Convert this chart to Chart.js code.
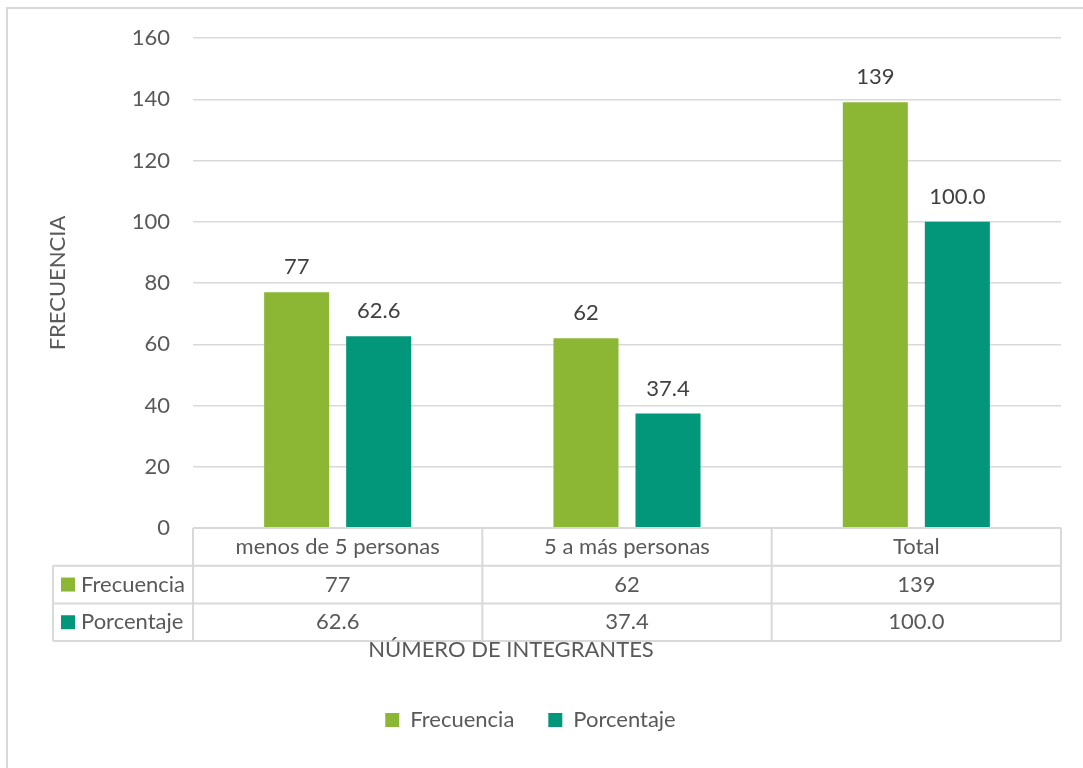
<!DOCTYPE html>
<html>
<head>
<meta charset="utf-8">
<script src="https://cdn.jsdelivr.net/npm/chart.js@4.4.1/dist/chart.umd.min.js"></script>
<style>
  html, body { margin: 0; padding: 0; background: #ffffff; }
  #frame { position: absolute; left: 6px; top: 7px; width: 1200px; height: 900px; border: 2px solid #d9d9d9; box-sizing: border-box; }
  #c { position: absolute; left: 0; top: 0; }
</style>
</head>
<body>
<div id="frame"></div>
<canvas id="c" width="1083" height="768"></canvas>
<script>
// ---- data ----
const categories = ["menos de 5 personas", "5 a más personas", "Total"];
const frecuencia = [77, 62, 139];
const porcentaje = [62.6, 37.4, 100.0];
const seriesNames = ["Frecuencia", "Porcentaje"];
const yTicks = [0, 20, 40, 60, 80, 100, 120, 140, 160];
const yTitle = "FRECUENCIA";
const xTitle = "NÚMERO DE INTEGRANTES";

// ---- styles ----
const FONT = "Lato";
const TXT = "#595959";
const LBL = "#404040";
const GRID = "#d9d9d9";
const colors = ["#8BB735", "#02967A"];
const fmt = [v => String(v), v => v.toFixed(1)];
const seriesData = [frecuencia, porcentaje];

const dataLabels = {
  id: "dataLabels",
  afterDatasetsDraw(chart) {
    const ctx = chart.ctx;
    ctx.save();
    ctx.font = "22px " + FONT;
    ctx.fillStyle = LBL;
    ctx.textAlign = "center";
    ctx.textBaseline = "middle";
    chart.data.datasets.forEach((ds, di) => {
      const meta = chart.getDatasetMeta(di);
      meta.data.forEach((bar, i) => {
        ctx.fillText(fmt[di](ds.data[i]), bar.x, bar.y - 25);
      });
    });
    ctx.restore();
  }
};

const dataTable = {
  id: "dataTable",
  afterDraw(chart) {
    const ctx = chart.ctx;
    const x = chart.scales.x;
    const ca = chart.chartArea;
    const half = (x.getPixelForValue(1) - x.getPixelForValue(0)) / 2;
    const rowH = 37.7;
    const tableLeft = 53;
    const top = ca.bottom;
    const r1 = top + rowH, r2 = top + 2 * rowH, r3 = top + 3 * rowH;
    ctx.save();
    ctx.strokeStyle = GRID;
    ctx.lineWidth = 2;
    ctx.beginPath();
    ctx.moveTo(ca.left, top); ctx.lineTo(ca.right, top);
    [r1, r2, r3].forEach(y => { ctx.moveTo(tableLeft, y); ctx.lineTo(ca.right, y); });
    ctx.moveTo(tableLeft, r1); ctx.lineTo(tableLeft, r3);
    ctx.moveTo(ca.left, top); ctx.lineTo(ca.left, r3);
    categories.forEach((c, i) => {
      const xr = x.getPixelForValue(i) + half;
      ctx.moveTo(xr, top); ctx.lineTo(xr, r3);
    });
    ctx.stroke();

    ctx.font = "22px " + FONT;
    ctx.fillStyle = TXT;
    ctx.textAlign = "center";
    ctx.textBaseline = "middle";
    categories.forEach((c, i) => {
      const cx = x.getPixelForValue(i);
      ctx.fillText(c, cx, top + rowH / 2);
      ctx.fillText(fmt[0](frecuencia[i]), cx, r1 + rowH / 2);
      ctx.fillText(fmt[1](porcentaje[i]), cx, r2 + rowH / 2);
    });
    [r1, r2].forEach((ry, si) => {
      const cy = ry + rowH / 2;
      ctx.fillStyle = colors[si];
      ctx.fillRect(61, cy - 7, 14, 14);
      ctx.fillStyle = TXT;
      ctx.textAlign = "left";
      ctx.fillText(seriesNames[si], 81, cy);
    });
    ctx.textAlign = "center";
    ctx.fillText(xTitle, 511, r3 + 9);
    ctx.restore();
  }
};

const PAD_BOTTOM = 27;

new Chart(document.getElementById("c"), {
  type: "bar",
  data: {
    labels: categories,
    datasets: seriesNames.map((n, i) => ({
      label: n,
      data: seriesData[i],
      backgroundColor: colors[i],
      borderWidth: 0,
      categoryPercentage: 0.567,
      barPercentage: 0.793
    }))
  },
  options: {
    responsive: false,
    devicePixelRatio: 1,
    animation: false,
    layout: { padding: { top: 38, bottom: PAD_BOTTOM, left: 0, right: 22 } },
    plugins: {
      tooltip: { enabled: false },
      legend: {
        position: "bottom",
        labels: {
          boxWidth: 14, boxHeight: 14, padding: 34,
          color: TXT,
          font: { family: FONT, size: 22 }
        }
      }
    },
    scales: {
      x: {
        ticks: { display: false },
        grid: { display: false },
        border: { display: false },
        afterFit(scale) {
          const lg = scale.chart.legend ? scale.chart.legend.height : 66;
          scale.height = 768 - 528 - lg - PAD_BOTTOM;
        }
      },
      y: {
        min: 0, max: 160,
        afterBuildTicks(scale) { scale.ticks = yTicks.map(v => ({ value: v })); },
        ticks: { color: TXT, padding: 23, font: { family: FONT, size: 22 } },
        grid: { color: GRID, lineWidth: 1.5, drawTicks: false },
        border: { display: false },
        title: { display: true, text: yTitle, color: TXT, font: { family: FONT, size: 22 }, padding: { top: 45 } },
        afterFit(scale) { scale.width = 193; }
      }
    }
  },
  plugins: [dataLabels, dataTable]
});
</script>
</body>
</html>
